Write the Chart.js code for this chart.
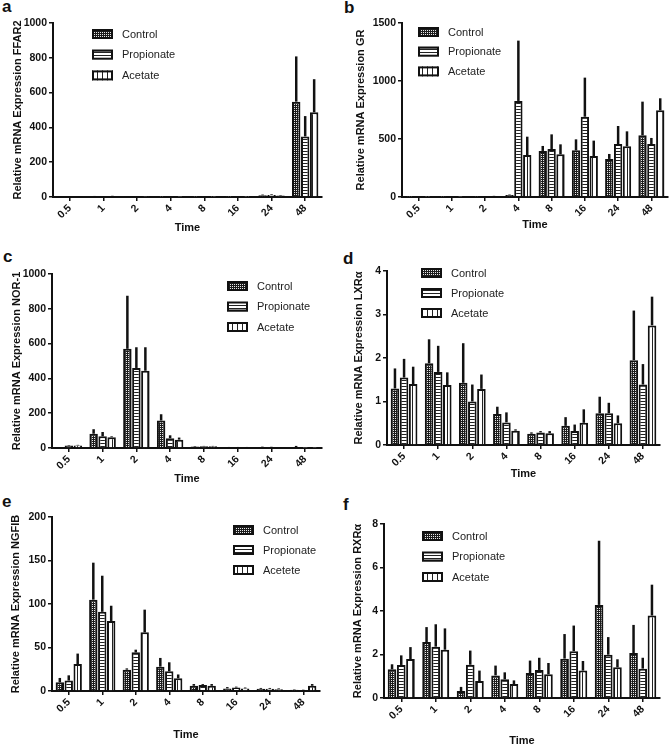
<!DOCTYPE html>
<html>
<head>
<meta charset="utf-8">
<script src="https://cdn.jsdelivr.net/npm/chart.js@4.4.1/dist/chart.umd.min.js"></script>
<style>
  body { margin: 0; background: #fff; width: 670px; height: 748px; position: relative; overflow: hidden; font-family: "Liberation Sans", Arial, sans-serif; }
  canvas { position: absolute; }
  .tag { position: absolute; font-weight: bold; font-size: 17px; line-height: 1; color: #111; }
</style>
</head>
<body>
<div class="tag" style="left:2px;top:-2px">a</div>
<div class="tag" style="left:344px;top:-1px">b</div>
<div class="tag" style="left:3px;top:248px">c</div>
<div class="tag" style="left:343px;top:250px">d</div>
<div class="tag" style="left:2px;top:493px">e</div>
<div class="tag" style="left:343px;top:496px">f</div>

<canvas id="pa" width="335" height="250" style="left:0;top:0"></canvas>
<canvas id="pb" width="335" height="250" style="left:335px;top:0"></canvas>
<canvas id="pc" width="335" height="250" style="left:0;top:250px"></canvas>
<canvas id="pd" width="335" height="250" style="left:335px;top:250px"></canvas>
<canvas id="pe" width="335" height="250" style="left:0;top:500px"></canvas>
<canvas id="pf" width="335" height="250" style="left:335px;top:500px"></canvas>

<script>
const times = ['0.5', '1', '2', '4', '8', '16', '24', '48'];
const names = ['Control', 'Propionate', 'Acetate'];
const namesE = ['Control', 'Propionate', 'Acetete']; // spelled this way in panel e

// a - FFAR2 (bar value, then top of error bar)
const ffar2Control = [3, 4, 3, 0.5, 0.5, 0.5, 10, 548];
const ffar2ControlTop = [4, 6, 4, 1, 1, 1, 14, 808];
const ffar2Prop = [3, 2, 1, 0.5, 0.5, 0.5, 12, 348];
const ffar2PropTop = [4, 3, 2, 1, 1, 1, 16, 465];
const ffar2Acet = [3, 5, 1, 0.5, 0.5, 0.5, 8, 487];
const ffar2AcetTop = [4, 7, 2, 1, 1, 1, 11, 677];

// b - GR
const grControl = [0.5, 0.5, 3, 18, 397, 402, 328, 532];
const grControlTop = [1, 1, 4, 22, 440, 497, 371, 822];
const grProp = [0.5, 0.5, 5, 828, 414, 692, 457, 457];
const grPropTop = [1, 1, 7, 1348, 540, 1029, 612, 509];
const grAcet = [0.5, 0.5, 8, 362, 368, 353, 437, 747];
const grAcetTop = [1, 1, 10, 520, 454, 486, 566, 851];

// c - NOR-1
const norControl = [3, 82, 570, 158, 8, 4, 6, 3];
const norControlTop = [4, 108, 875, 194, 11, 6, 8, 12];
const norProp = [14, 67, 460, 56, 10, 4, 5, 0.5];
const norPropTop = [17, 92, 579, 73, 12, 6, 7, 1];
const norAcet = [15, 62, 444, 48, 10, 4, 3, 0.5];
const norAcetTop = [18, 67, 579, 60, 12, 6, 5, 1];

// d - LXRa
const lxrControl = [1.30, 1.88, 1.43, 0.71, 0.26, 0.44, 0.73, 1.95];
const lxrControlTop = [1.76, 2.43, 2.34, 0.88, 0.29, 0.64, 1.11, 3.09];
const lxrProp = [1.55, 1.68, 1.00, 0.52, 0.29, 0.32, 0.73, 1.39];
const lxrPropTop = [1.98, 2.28, 1.39, 0.75, 0.32, 0.47, 0.97, 1.86];
const lxrAcet = [1.40, 1.38, 1.29, 0.33, 0.27, 0.51, 0.50, 2.75];
const lxrAcetTop = [1.80, 1.67, 1.62, 0.36, 0.32, 0.82, 0.68, 3.41];

// e - NGFIB
const ngfControl = [10, 105, 24.5, 28, 6, 3, 2.5, 1.5];
const ngfControlTop = [15, 147.5, 26, 38, 8, 4.5, 3.5, 2];
const ngfProp = [12, 91, 44.4, 22.6, 7, 4, 2.5, 1];
const ngfPropTop = [18, 132.5, 47.5, 33, 8, 5, 3.5, 1.5];
const ngfAcet = [31, 80.5, 67.4, 14.6, 6, 3, 2, 6];
const ngfAcetTop = [43, 98, 93.5, 19, 8, 4, 3, 8];

// f - RXRa
const rxrControl = [1.32, 2.57, 0.32, 1.04, 1.15, 1.81, 4.28, 2.07];
const rxrControlTop = [1.55, 3.26, 0.51, 1.49, 1.72, 2.94, 7.23, 3.36];
const rxrProp = [1.52, 2.36, 1.53, 0.86, 1.29, 2.15, 1.99, 1.35];
const rxrPropTop = [1.96, 3.39, 2.18, 1.18, 1.85, 3.33, 2.80, 1.85];
const rxrAcet = [1.79, 2.22, 0.78, 0.64, 1.09, 1.26, 1.41, 3.79];
const rxrAcetTop = [2.34, 3.20, 1.26, 0.81, 1.61, 1.70, 1.78, 5.21];

const FONT = '"Liberation Sans", Arial, sans-serif';
const INK = '#111';

// fill patterns: dotted (control), horizontal lines (propionate), vertical lines (acetate)
function makePattern(kind) {
  const c = document.createElement('canvas');
  const g = c.getContext('2d');
  if (kind === 'dots') {
    c.width = 2; c.height = 2;
    g.fillStyle = '#1c1c1c'; g.fillRect(0, 0, 2, 2);
    g.fillStyle = '#e8e8e8'; g.fillRect(0, 0, 1, 1);
  } else if (kind === 'hline') {
    c.width = 4; c.height = 3;
    g.fillStyle = '#fff'; g.fillRect(0, 0, 4, 3);
    g.fillStyle = '#222'; g.fillRect(0, 1, 4, 1);
  } else {
    c.width = 5; c.height = 4;
    g.fillStyle = '#fff'; g.fillRect(0, 0, 5, 4);
    g.fillStyle = '#222'; g.fillRect(2, 0, 1, 4);
  }
  return document.createElement('canvas').getContext('2d').createPattern(c, 'repeat');
}
const patterns = [makePattern('dots'), makePattern('hline'), makePattern('vline')];

// error bars go straight up from the bar top, no caps
const errorBars = {
  id: 'errorBars',
  afterDatasetsDraw(chart) {
    const ctx = chart.ctx;
    const y = chart.scales.y;
    chart.data.datasets.forEach((ds, i) => {
      chart.getDatasetMeta(i).data.forEach((bar, j) => {
        const top = ds.upper[j];
        if (top == null || top <= ds.data[j]) return;
        ctx.save();
        ctx.strokeStyle = INK;
        ctx.lineWidth = 2.5;
        ctx.beginPath();
        ctx.moveTo(bar.x, bar.y);
        ctx.lineTo(bar.x, y.getPixelForValue(top));
        ctx.stroke();
        ctx.restore();
      });
    });
  }
};

// stacked legend inside the plot, as in the figure
const boxLegend = {
  id: 'boxLegend',
  afterDraw(chart, args, opts) {
    const ctx = chart.ctx;
    chart.data.datasets.forEach((ds, i) => {
      const cy = opts.y + i * opts.gap;
      ctx.save();
      ctx.fillStyle = ds.backgroundColor;
      ctx.fillRect(opts.x, cy - 5, 21, 10);
      ctx.strokeStyle = INK;
      ctx.lineWidth = 2;
      ctx.strokeRect(opts.x + 1, cy - 4, 19, 8);
      ctx.fillStyle = '#222';
      ctx.font = '11px ' + FONT;
      ctx.textBaseline = 'middle';
      ctx.fillText(ds.label, opts.x + 30, cy + 0.5);
      ctx.restore();
    });
  }
};

function panel(id, o) {
  const [L, T, R, B] = o.area;
  const xh = o.timeY + 6.6 - B;
  const datasets = o.series.map((s, i) => ({
    label: o.names[i],
    data: s[0],
    upper: s[1],
    backgroundColor: patterns[i],
    borderColor: INK,
    borderWidth: 2,
    categoryPercentage: 0.8,
    barPercentage: 0.94
  }));
  const tickFont = { family: FONT, size: 10.5, weight: 'bold' };
  const titleFont = { family: FONT, size: 11, weight: 'bold' };
  new Chart(document.getElementById(id), {
    type: 'bar',
    data: { labels: times, datasets },
    options: {
      responsive: false,
      animation: false,
      devicePixelRatio: 1,
      layout: { padding: { left: 0, top: T, right: 335 - R, bottom: 250 - B - xh } },
      plugins: { legend: { display: false }, tooltip: { enabled: false }, boxLegend: o.legend },
      scales: {
        x: {
          offset: true,
          grid: { offset: false, drawOnChartArea: false, tickLength: 4, color: INK, lineWidth: 1.5 },
          border: { color: INK, width: 2 },
          ticks: { autoSkip: false, minRotation: 45, maxRotation: 45, color: INK, font: tickFont, padding: 1 },
          title: { display: true, text: 'Time', color: INK, font: titleFont, padding: 0 },
          afterFit: s => { s.height = xh; }
        },
        y: {
          min: 0,
          max: o.yMax,
          grid: { drawOnChartArea: false, tickLength: 4, color: INK, lineWidth: 1.5 },
          border: { color: INK, width: 2 },
          ticks: { stepSize: o.yStep, color: INK, font: tickFont, padding: 2, callback: v => String(v) },
          title: { display: true, text: o.title, color: INK, font: titleFont, padding: { top: o.titleX - 6.6, bottom: 0 } },
          afterFit: s => { s.width = L; }
        }
      }
    },
    plugins: [errorBars, boxLegend]
  });
}

panel('pa', {
  title: 'Relative mRNA Expression FFAR2', yMax: 1000, yStep: 200, names,
  series: [[ffar2Control, ffar2ControlTop], [ffar2Prop, ffar2PropTop], [ffar2Acet, ffar2AcetTop]],
  area: [53, 23, 322, 197], titleX: 17.5, timeY: 228,
  legend: { x: 92, y: 34, gap: 20.7 }
});
panel('pb', {
  title: 'Relative mRNA Expression GR', yMax: 1500, yStep: 500, names,
  series: [[grControl, grControlTop], [grProp, grPropTop], [grAcet, grAcetTop]],
  area: [67, 23, 333, 197], titleX: 26, timeY: 225,
  legend: { x: 83, y: 32, gap: 19.7 }
});
panel('pc', {
  title: 'Relative mRNA Expression NOR-1', yMax: 1000, yStep: 200, names,
  series: [[norControl, norControlTop], [norProp, norPropTop], [norAcet, norAcetTop]],
  area: [52, 24, 322, 198], titleX: 17, timeY: 229,
  legend: { x: 227, y: 36, gap: 20.5 }
});
panel('pd', {
  title: 'Relative mRNA Expression LXRα', yMax: 4, yStep: 1, names,
  series: [[lxrControl, lxrControlTop], [lxrProp, lxrPropTop], [lxrAcet, lxrAcetTop]],
  area: [52, 21, 325, 195], titleX: 23.5, timeY: 224,
  legend: { x: 86, y: 23, gap: 20 }
});
panel('pe', {
  title: 'Relative mRNA Expression NGFIB', yMax: 200, yStep: 50, names: namesE,
  series: [[ngfControl, ngfControlTop], [ngfProp, ngfPropTop], [ngfAcet, ngfAcetTop]],
  area: [52, 17, 320, 191], titleX: 16, timeY: 235,
  legend: { x: 233, y: 30, gap: 20 }
});
panel('pf', {
  title: 'Relative mRNA Expression RXRα', yMax: 8, yStep: 2, names,
  series: [[rxrControl, rxrControlTop], [rxrProp, rxrPropTop], [rxrAcet, rxrAcetTop]],
  area: [49, 24, 325, 198], titleX: 23, timeY: 241,
  legend: { x: 87, y: 36, gap: 20.5 }
});
</script>
</body>
</html>
